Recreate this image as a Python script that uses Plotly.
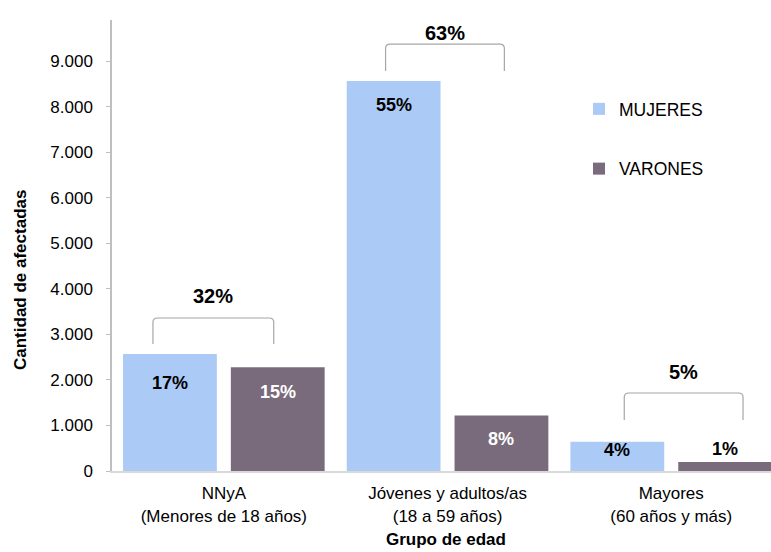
import plotly.graph_objects as go

categories = ["NNyA<br>(Menores de 18 años)", "Jóvenes y adultos/as<br>(18 a 59 años)", "Mayores<br>(60 años y más)"]
mujeres = [2570, 8560, 640]
varones = [2280, 1220, 200]
mujeres_pct = ["17%", "55%", "4%"]
varones_pct = ["15%", "8%", "1%"]
total_pct = ["32%", "63%", "5%"]
y_ticks = [0, 1000, 2000, 3000, 4000, 5000, 6000, 7000, 8000, 9000]

C_M = "#ABCAF6"
C_V = "#7A6B7C"
FONT = "Liberation Sans, Arial, sans-serif"

idx = list(range(len(categories)))
fig = go.Figure()
fig.add_trace(go.Bar(x=idx, y=mujeres, name="MUJERES", marker=dict(color=C_M, line=dict(width=0)),
                     legendgroup="m", hoverinfo="skip"))
fig.add_trace(go.Bar(x=idx, y=varones, name="VARONES", marker=dict(color=C_V, line=dict(width=0)),
                     legendgroup="v", hoverinfo="skip"))

off = 0.241  # half slot in category units
annotations = []
m_shift = [-29, -24, -8]
v_shift = [-25, -24, 13]
v_col = ["white", "white", "black"]
for i in idx:
    annotations.append(dict(x=i - off, y=mujeres[i], xref="x", yref="y", text="<b>%s</b>" % mujeres_pct[i],
                            showarrow=False, yshift=m_shift[i], yanchor="middle",
                            font=dict(size=18, color="black", family=FONT)))
    annotations.append(dict(x=i + off, y=varones[i], xref="x", yref="y", text="<b>%s</b>" % varones_pct[i],
                            showarrow=False, yshift=v_shift[i], yanchor="middle",
                            font=dict(size=18, color=v_col[i], family=FONT)))

# brackets: (left, right) in category offsets, top y and bottom y in data units
br_x = [(-0.317, 0.223), (-0.277, 0.254), (-0.21, 0.321)]
br_top = [3358, 9372, 1712]
br_bot = [2788, 8780, 1119]
lbl_y = [3841, 9613, 2173]
shapes = []
for i in idx:
    xl, xr = i + br_x[i][0], i + br_x[i][1]
    yt, yb = br_top[i], br_bot[i]
    rx, ry = 0.02, 90
    path = (f"M {xl},{yb} L {xl},{yt-ry} Q {xl},{yt} {xl+rx},{yt} L {xr-rx},{yt} "
            f"Q {xr},{yt} {xr},{yt-ry} L {xr},{yb}")
    shapes.append(dict(type="path", path=path, xref="x", yref="y",
                       line=dict(color="#A6A6A6", width=1.2)))
    annotations.append(dict(x=(xl + xr) / 2, y=lbl_y[i], xref="x", yref="y",
                            text="<b>%s</b>" % total_pct[i], showarrow=False, yanchor="middle",
                            font=dict(size=20, color="black", family=FONT)))

W, H = 771, 552
ML, MR, MT, MB = 112, 0, 20, 552 - 471
PW, PH = W - ML - MR, H - MT - MB

def to_paper(px, py):
    return (px - ML) / PW, 1 - (py - MT) / PH

tx, ty = to_paper(20, 280)
annotations.append(dict(x=tx, y=ty, xref="paper", yref="paper", text="<b>Cantidad de afectadas</b>",
                        showarrow=False, textangle=-90, xanchor="center", yanchor="middle",
                        font=dict(size=17, family=FONT, color="black")))
tx, ty = to_paper(446, 539)
annotations.append(dict(x=tx, y=ty, xref="paper", yref="paper", text="<b>Grupo de edad</b>",
                        showarrow=False, xanchor="center", yanchor="middle",
                        font=dict(size=17, family=FONT, color="black")))
lx, ly = to_paper(579, 91)

fig.update_layout(
    width=W, height=H,
    margin=dict(l=ML, r=MR, t=MT, b=MB, pad=0),
    paper_bgcolor="white", plot_bgcolor="white",
    barmode="group", bargap=0.036, bargroupgap=0.13,
    separators=",.",
    font=dict(family=FONT, size=17, color="black"),
    showlegend=True,
    legend=dict(x=lx, y=ly, xanchor="left", yanchor="top", tracegroupgap=34,
                traceorder="grouped", font=dict(size=17.5, family=FONT, color="black"),
                bgcolor="rgba(0,0,0,0)"),
    shapes=shapes, annotations=annotations,
)
fig.update_xaxes(tickvals=idx, ticktext=categories, range=[-0.5, 2.446], automargin=False,
                 showline=True, linecolor="#D9D9D9", linewidth=2, ticks="",
                 showgrid=False, zeroline=False, tickfont=dict(size=17), ticklabelstandoff=6)
fig.update_yaxes(range=[0, 9900], tickvals=y_ticks, tickformat=",d", automargin=False,
                 showline=True, linecolor="#BFBFBF", linewidth=1.5, ticks="outside",
                 ticklen=4, tickcolor="#BFBFBF", showgrid=False, zeroline=False,
                 tickfont=dict(size=17), ticklabelstandoff=10)

fig.write_html("out.html", config={"displayModeBar": False},
               post_script="document.body.style.margin='0';document.body.style.overflow='hidden';")
